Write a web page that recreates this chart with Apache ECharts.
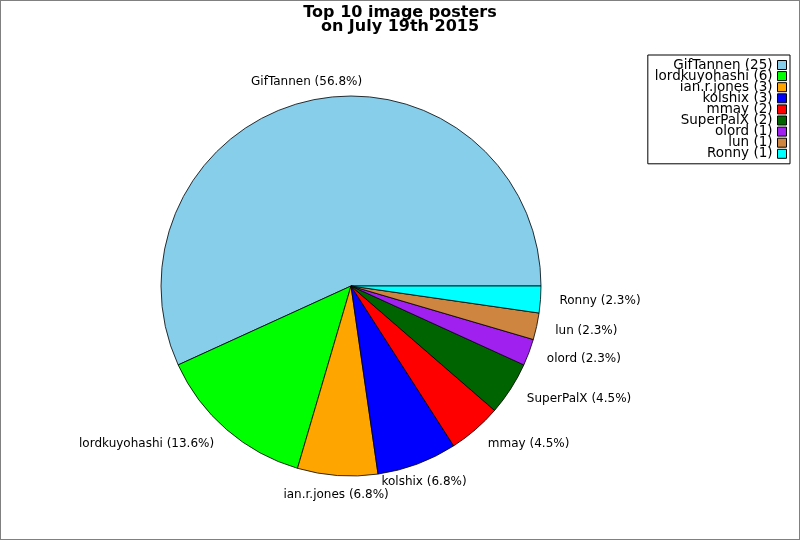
<!DOCTYPE html>
<html>
<head>
<meta charset="utf-8">
<script src="https://cdn.jsdelivr.net/npm/echarts@6/dist/echarts.min.js"></script>
<style>
html,body{margin:0;padding:0;background:#fff;}
#c{width:798px;height:538px;border:1px solid #808080;}
</style>
</head>
<body>
<div id="c"></div>
<script>
const names = ['GifTannen','lordkuyohashi','ian.r.jones','kolshix','mmay','SuperPalX','olord','lun','Ronny'];
const counts = [25,6,3,3,2,2,1,1,1];
const colors = ['#87CEEB','#00FF00','#FFA500','#0000FF','#FF0000','#006400','#A020F0','#CD853F','#00FFFF'];
const titleText = 'Top 10 image posters\non July 19th 2015';

const total = counts.reduce((a,b)=>a+b,0);
const data = names.map((n,i)=>({name: n + ' (' + counts[i] + ')', value: counts[i], itemStyle:{color: colors[i]}}));
// mid angles (counter-clockwise from 3 o'clock) used only to pick label alignment
let acc = 0;
const mids = counts.map(v => { const m = (acc + v/2) / total * 360; acc += v; return m; });

const chart = echarts.init(document.getElementById('c'), null, {renderer:'canvas'});
chart.setOption({
  animation: false,
  title: {
    text: titleText,
    left: 'center',
    top: 0,
    textStyle: {fontFamily:'DejaVu Sans', fontWeight:'bold', fontSize:16, lineHeight:14, color:'#000'}
  },
  legend: {
    orient: 'vertical',
    right: 9,
    top: 54,
    align: 'right',
    itemWidth: 9,
    itemHeight: 9,
    itemGap: -2.9,
    padding: [3,3,3,7],
    borderColor: '#000',
    borderWidth: 1,
    icon: 'rect',
    itemStyle: {borderColor:'#000', borderWidth:1},
    textStyle: {fontFamily:'DejaVu Sans', fontSize:13.5, color:'#000'}
  },
  series: [{
    type: 'pie',
    center: [350, 285],
    radius: 190,
    startAngle: 0,
    clockwise: false,
    avoidLabelOverlap: false,
    itemStyle: {borderColor:'#000', borderWidth:0.8},
    label: {
      show: true,
      position: 'outside',
      fontFamily: 'DejaVu Sans',
      fontSize: 12,
      color: '#000',
      distanceToLabelLine: 0,
      formatter: p => names[p.dataIndex] + ' (' + (p.value/total*100).toFixed(1) + '%)'
    },
    labelLine: {show:false, length:19, length2:0},
    labelLayout: p => {
      const a = mids[p.dataIndex] * Math.PI / 180;
      if (Math.abs(Math.cos(a)) < 0.5) return {align:'center'};
      return {};
    },
    emphasis: {disabled: true},
    data: data
  }]
});
</script>
</body>
</html>
